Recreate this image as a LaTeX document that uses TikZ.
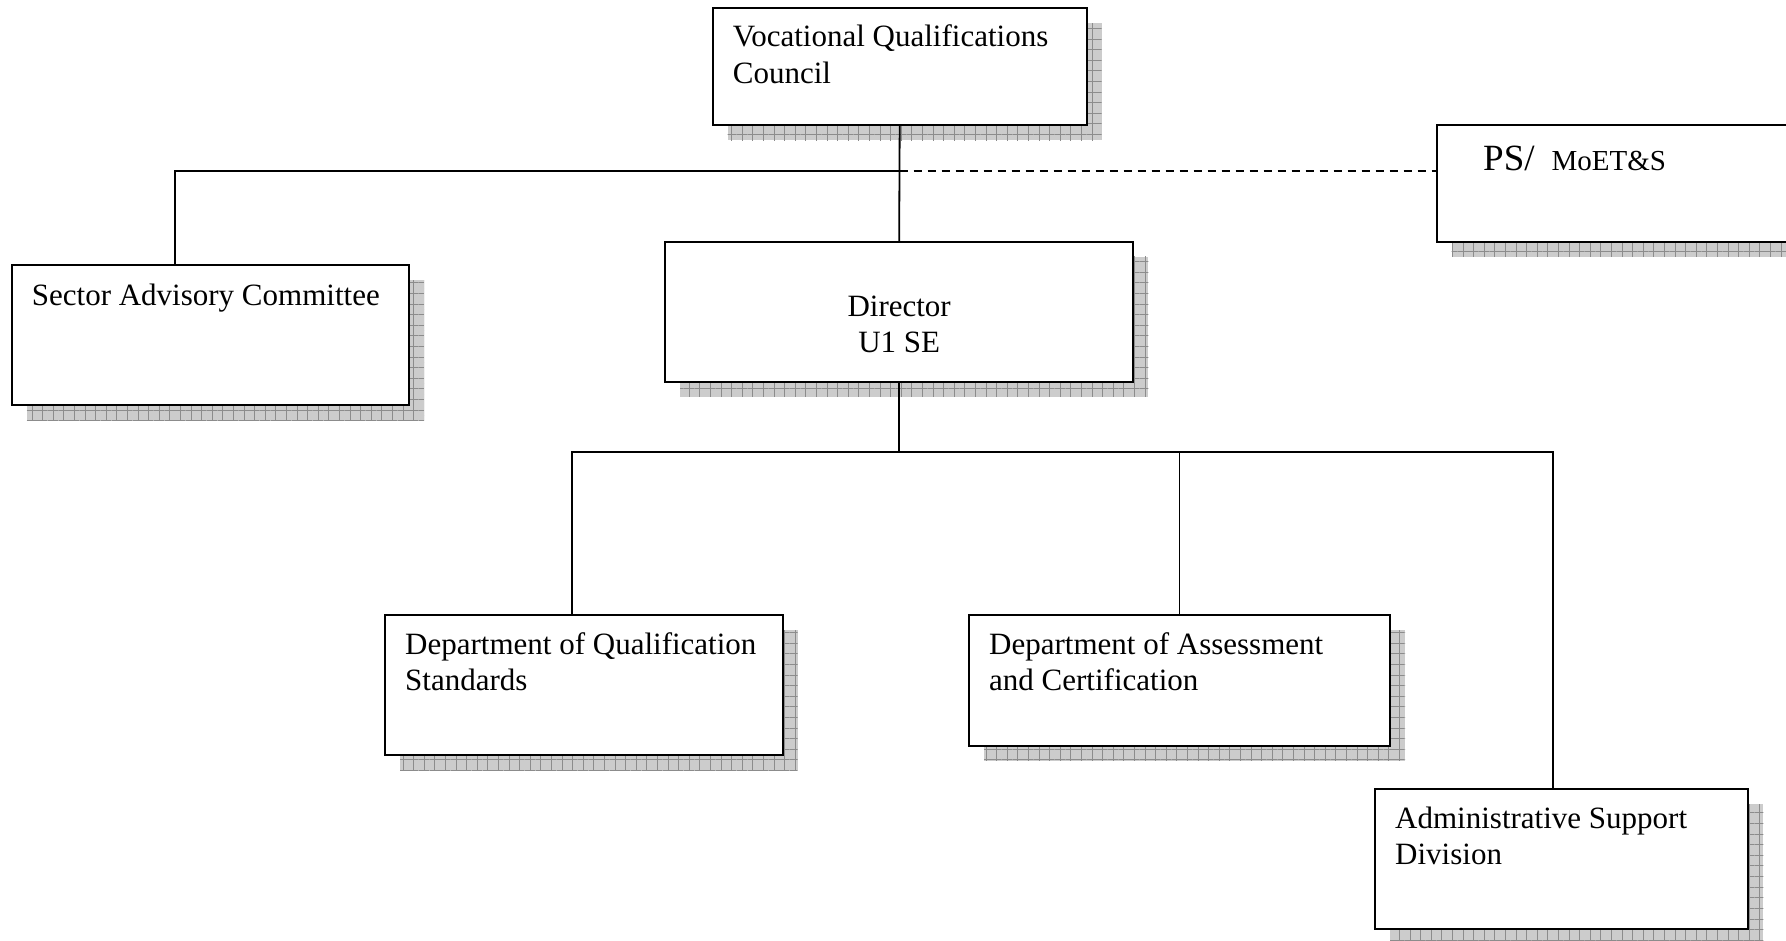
\documentclass[tikz,border=0pt]{standalone}
\usepackage{fontspec}
\setmainfont{Liberation Serif}
\usetikzlibrary{backgrounds,patterns.meta}
\newcommand{\orgbodyfont}{\fontsize{31}{36.5}\selectfont}
\tikzset{
  orgbox/.style={draw, line width=2.2pt, fill=white, rectangle, inner sep=0pt, outer sep=0pt, anchor=north west},
  shadowfill/.style={preaction={fill=black!20}, pattern={Hatch[distance=10.6pt, angle=0, line width=0.6pt]}, pattern color=black!45},
  conn/.style={line width=1.8pt},
  dashconn/.style={line width=1.8pt, dash pattern=on 8pt off 6pt},
  lbl/.style={inner sep=0pt, anchor=base west, align=left, font=\orgbodyfont}
}
\begin{document}
\begin{tikzpicture}[x=1pt,y=-1pt]
\useasboundingbox (0,0) rectangle (1786,940);
\clip (0,0) rectangle (1786,940);

% boxes
\node[orgbox, minimum width=374pt,   minimum height=116.7pt] (vqc) at (712.7,8.3) {};
\node[orgbox, minimum width=363.3pt, minimum height=116.7pt] (ps)  at (1436.7,125) {};
\node[orgbox, minimum width=397.3pt, minimum height=140pt]   (sac) at (11.7,265) {};
\node[orgbox, minimum width=468.3pt, minimum height=140pt]   (dir) at (665,241.7) {};
\node[orgbox, minimum width=397.7pt, minimum height=140pt]   (dqs) at (385,615) {};
\node[orgbox, minimum width=421pt,   minimum height=130.7pt] (dac) at (969,615) {};
\node[orgbox, minimum width=373.3pt, minimum height=140pt]   (adm) at (1375,789.3) {};

% labels (for two-line labels the base anchor is the baseline of the last line)
\node[lbl] (vqcL) at ([shift={(20,75)}]vqc.north west) {Vocational Qualifications\\Council};
\node[inner sep=0pt, anchor=base west] (psL) at ([shift={(46.3,45)}]ps.north west)
  {\fontsize{37}{40}\selectfont PS/\hspace{17pt}\fontsize{29}{33}\selectfont MoET\&S};
\node[lbl] (sacL) at ([shift={(20,40)}]sac.north west) {Sector Advisory Committee};
\node[lbl, anchor=base, align=center] (dirL) at ([shift={(0,110.8)}]dir.north) {Director\\U1 SE};
\node[lbl] (dqsL) at ([shift={(20,75.5)}]dqs.north west) {Department of Qualification\\Standards};
\node[lbl] (dacL) at ([shift={(20,75.5)}]dac.north west) {Department of Assessment\\and Certification};
\node[lbl] (admL) at ([shift={(20,75.5)}]adm.north west) {Administrative Support\\Division};

% connector anchor points
\coordinate (yA) at (0,171);
\coordinate (yB) at (0,452);
\coordinate (sacT) at ([xshift=163.3pt]sac.north west);
\coordinate (dqsT) at ([xshift=186.7pt]dqs.north west);
\coordinate (admT) at ([xshift=178.3pt]adm.north west);

% connectors
\draw[conn] (vqc.south) -- (dir.north);
\draw[conn] (sacT) -- (sacT |- yA) -- (vqc.south |- yA);
\draw[dashconn] (vqc.south |- yA) -- (ps.north west |- yA);
\draw[conn] (dir.south) -- (dir.south |- yB);
\draw[conn] (dqsT) -- (dqsT |- yB) -- (admT |- yB) -- (admT);
\draw[conn] (dac.north) -- (dac.north |- yB);

% shadows
\begin{scope}[on background layer]
  \fill[white] (0,0) rectangle (1786,940);
  \foreach \n in {vqc,ps,sac,dir,dqs,dac,adm}{
    \path[shadowfill] ([shift={(15,15)}]\n.north west) rectangle ([shift={(15,15)}]\n.south east);
  }
\end{scope}
\end{tikzpicture}
\end{document}
